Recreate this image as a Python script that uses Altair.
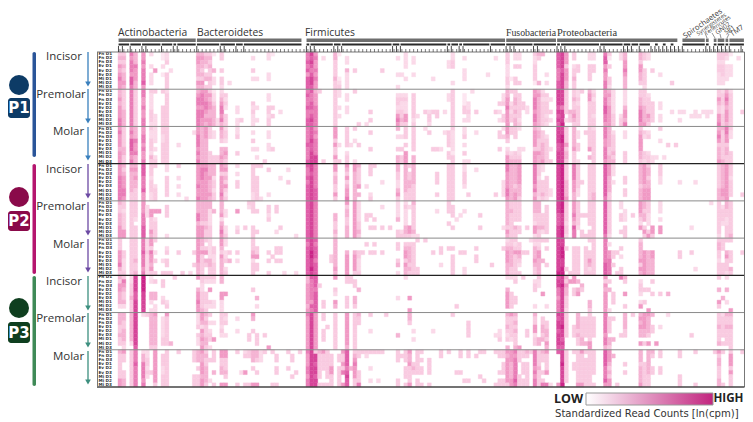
import altair as alt
import pandas as pd

P1_INCISOR = """0:343545655 1:343434454 3:656665776 4:444655544 6:556566675 8:200202220 9:000050000 11:110201000 12:223003333 13:000020000
20:455444354 21:454434354 22:344303403 23:343433433 24:100040220 26:330030332 28:000000020 34:020030200 35:000000200 38:220002200 39:100000000
48:667675777 49:878767887 50:565565655 52:020000000 55:443333433 56:100000123 58:022042222 60:000030000 67:000030000 71:020002002 72:000002000 73:222200200 75:022002000
80:000000200 84:002200000 85:223300020 88:020022200 94:000002000 96:020000000 99:333222332 100:000000100 101:220300330 102:220300030 106:322333310 107:430000040 108:400000000 109:000002020
112:777766677 113:888878888 114:555355544 116:330233433 117:000330000 120:220333300 121:220330000 124:677565566 125:310300332 128:220000000 129:445565444 133:443554430 134:330033332 135:220000000 136:000030000 138:000002000 141:000000030
153:332332220 154:332333220 155:320222200 156:100222000 158:020000000"""
P1_PREMOLAR = """0:445455566 1:333334444 3:666666666 4:333333333 6:665565566 8:322223332 9:300000222 11:300033333 12:233333333
20:456656666 21:566656655 22:555665454 23:354554455 24:122344444 25:000000022 26:234566564 27:032320333 30:000022022 31:000000030 34:000323222 35:000020020 38:022033233 39:000030300 41:000002000
48:676676677 49:766776787 50:455566666 51:300000000 55:333333333 56:220020200 58:022022000 60:300000000 61:000000003 63:000000002 64:000003030 71:023323565 72:023223343 73:023222553 75:033333323 76:000000200 78:000003000 79:000002332
80:000003000 81:000003300 83:000002000 84:022000000 85:333333333 88:011133020 89:000223220 90:200000000 91:000003000 96:000003000 97:000302020 98:022300330 99:445565555 100:300232330 101:334434344 102:033333323 103:000330000 104:000022000 106:556665665 107:454444444 108:232333333 109:032333232 110:002003020
112:888878787 113:888868889 114:333333020 115:000004330 116:334334543 117:223233333 118:300000000 120:455333333 121:232333233 124:556677665 125:454455555 126:222222333 128:000000233 129:222245546 133:334456665 134:333344445 135:023333543 136:000333330 138:000220220
141:000002000 143:000002020 144:000002000 146:000000200 147:000002200 148:000000200 149:000002000 150:000002200 151:000002000 153:335433556 154:233322333 155:456545554 156:233333333 159:000003000"""
P1_MOLAR = """0:565554555 1:333334433 3:565777656 4:444655644 6:556656556 8:322333243 9:222202023 11:332233333 12:333333333 15:000020000 19:020000000
20:556665656 21:444444444 22:555444444 23:333000333 24:022000033 25:000000033 26:544304454 27:233204543 30:223000300 34:020302000 35:000002020 38:022022000 39:000003000 37:000000003
48:666676667 49:777877888 50:565666688 52:000000003 55:555353353 56:000020003 58:333330233 60:300200002 61:000030000 59:000020000 64:030003000 71:402003044 72:002003033 73:333030555 75:333333044 78:200000000 79:030000000
80:000003000 81:000003000 82:000002000 83:020000000 84:033330330 85:322222133 88:223020302 89:000000002 91:020000000 97:033003000 98:203000000 99:554302355 100:330000234 101:333000334 102:200002234 103:000002000
106:455553555 107:344333544 108:033344445 109:002333333 110:000002003 112:888877888 113:889988888 114:333353443 116:444445333 117:022033002 119:030000000 120:333335040 121:233333333 124:666556665 125:444443344 126:023333434 129:022000333
133:345555443 134:032000332 135:023000233 136:000000022 137:000000020 138:300200000 139:000000020 140:000030000 142:000030000 153:456534445 154:433333334 155:665534433 156:322000333"""
P2_INCISOR = """0:555666666 1:434555665 3:454444433 4:454544333 6:777666755 8:333233322 9:300002333 12:220333330 15:300202020 17:000000002
20:555556556 21:566655555 22:565555555 23:444544454 24:444233233 26:553555565 27:453435323 30:202033000 34:333333322 35:300333333 36:300000002 38:030000020 41:000200000 43:020030000
48:766767777 49:887888888 50:666666777 55:553443353 58:543534556 60:554444444 61:433335040 63:000002000 64:333000023 65:300000000 67:000020000 71:443322453 73:444444433 74:303344333 75:444443333
81:003330030 84:333333333 85:333333333 88:223332000 89:000000030 91:020000000 96:000000030 98:000022220 99:665555665 100:444444444 101:444443455 102:555554443 106:666665645 107:333233332 108:220033343 109:000333332 110:000000220
112:888888888 113:999999999 114:333344445 116:666655544 117:333333220 118:000030000 120:333333333 121:333333344 124:777777776 125:555444433 126:222020000 129:000330330 133:444443444 134:555554555 135:344344555 138:333220000 143:000020000 147:000020000
153:333333444 154:444444554 155:555555555 156:333233330 159:000000030"""
P2_PREMOLAR = """0:433444555 1:332333355 3:333333333 4:333320333 6:555666777 7:022200000 8:005533354 9:005023333 10:005000000 12:033300002
20:444664555 21:444443555 22:444443433 23:442222333 24:004000000 26:444524565 27:002200223 30:005000230 32:000000300 33:320000000 34:333000333 35:003000030 38:033230000 40:033000020 41:000000300 45:000000002
48:777777777 49:888888888 50:666666666 55:000443343 58:534433444 60:555555555 61:222223343 63:000330000 64:000300300 65:000030300 67:020000300 69:000000300 71:222240033 72:000000023 73:232222443 74:020000553 75:433333342 76:000000002
81:002000000 84:333003000 85:033300300 86:000020000 87:000200000 88:002000000 92:000300300 98:000000200 99:444444354 100:334333333 101:333330433 102:333330330 104:000000300 106:444332552 107:444333433 108:000333420 109:033333330
112:888777888 113:999888999 114:333332332 116:555654766 117:333333200 118:000300033 119:000300003 120:333333033 121:333333333 124:777777776 125:333333332 128:220330030 129:002220333 131:000300000 133:555432500 134:443440353 135:333222035 136:000000553 138:222020550 146:000000200
151:200000000 153:333333332 154:023332000 155:443322333 156:333333334"""
P2_MOLAR = """0:333555643 1:000332223 3:333333333 4:333334334 6:666766656 7:222322222 8:553655453 9:300203003 11:000002003 12:002303303 13:000000003 15:000300000 16:000000003 18:000000002 19:000300300
20:555555444 21:443533333 22:303504300 23:222224433 24:003322333 26:554354444 27:220223023 28:000304000 30:000302000 34:333452333 35:003350330 38:000303003 39:000030000 40:003303000 41:003303000 42:000000002 45:000000002
48:767777777 49:888998898 50:767776777 54:000033000 55:444444454 58:000455555 60:000455553 61:000332223 62:000300000 63:030000000 64:000300000 65:030300000 67:000300000 71:033003402 73:034553544 74:034444343 75:033333333 76:300000033 78:300000000
80:000300000 82:003300200 84:003000000 85:003033333 87:000300000 88:000300022 91:003033000 95:000000300 98:003000000 99:234555444 100:334444433 101:323533333 102:033543203 103:000300000 104:000300000 105:200000000 106:324445433 107:323554444 108:300004000 109:303000300
112:888888889 113:889998899 114:003000030 115:000000003 116:003333333 117:003333333 119:003333333 120:300335423 121:333333333 124:666666777 125:020556666 126:000330300 127:000300003 128:003020033 133:344445354 134:000555555 135:000444444 136:000554444 143:000330000 146:000300000 147:000000020
153:344332333 154:333000333 155:300453332 156:300333043 159:000300000"""
P3_INCISOR = """0:435544420 1:365433420 3:223334333 4:888877888 6:999988888 8:120044202 9:030044022 11:033002300 12:000000230 14:300000000
20:500455655 21:332233334 22:320033323 23:320500320 24:320000220 26:440055222 27:000050000 34:000300000 35:000004020 71:000002000 73:200000000 74:000005005
48:445555545 49:766666576 50:777677777 51:003000000 52:000000330 55:500320540 58:330003330 59:330000000 60:033004430 61:000400000
86:000000030 99:200455550 100:200033330 101:230003300 103:300000000 106:023300020 107:322000000 108:000050000 109:000000020 112:788665666 113:889888888 114:435443332 115:050000000 116:550330000 117:040450000 118:004300000 120:000000443
124:535455555 125:030400002 126:000033300 128:600000000 129:430050030 133:023320250 134:000300300 135:000300005 136:030030000 138:000030000 140:000040000 153:300400530 154:000004000 155:200400200 156:000000005"""
P3_PREMOLAR = """0:444334330 1:443344432 3:444444420 4:888888887 6:200000000 7:300000000 8:444444443 9:544444443 11:022222330 12:533333330 13:000000040
20:222303220 21:554254545 22:434333443 23:302023302 24:002000500 26:333232000 27:323002000 30:020020000 33:000003300 34:540030000 35:000003330 37:000003000 38:000000005
48:655555555 49:888888888 50:555555555 52:330033300 53:000300000 55:333333333 58:555555554 60:333333333 61:433000000 64:300020000 68:300000000 71:000004000 74:443000000 75:000020200
80:000020000 85:300000000 89:003333000 96:000002000 97:000022300 99:433432304 100:533333200 101:434343334 102:000000005 104:000033000 106:433552330 107:000000440 108:033443400 109:003344354
112:878878887 113:888988787 114:333333000 116:000333000 117:444434330 118:033333440 119:033333040 120:333333355 121:033333000 124:666665664 125:033330443 126:030000400 128:000003000 129:444433000 131:300000000
133:454544050 134:555544030 135:544443050 136:400330000 137:000000050 138:000200000 140:200000000 146:000003000 153:333433340 154:233333030 155:433433330 156:433433333"""
P3_MOLAR = """0:433333355 1:533003344 3:333333333 4:666766666 6:244666656 7:223323200 8:000003000 9:555555553 11:033322333 12:333333333 15:300000000 19:333000333
20:444030333 21:544555455 22:343344443 23:003000020 24:333004003 26:553344005 27:553334305 30:300000003 31:000002000 32:230005003 33:330000003 34:444030005 35:443003005 36:222000000 37:300000000 39:300000003 40:033033003 43:300030000 44:033000300 45:000003000 46:300000000
48:655566566 49:888888888 50:388788788 51:433333303 52:533330003 53:333333303 54:033355333 56:033033333 57:533536005 58:777767877 59:000040000 60:345655533 61:330003336 62:300000000 63:320000000 64:300020020 65:300000000 66:300000020 67:300000000
71:333000033 72:030000000 73:333033303 74:544533335 75:000343000 76:333333033 77:303033003 79:003333003
82:330000000 84:300000000 86:000003000 87:330003000 88:000000030 89:330000030 91:030000000 92:300000300 93:300000030 96:300000003 97:330003033 98:330333033 99:545555553 100:555444455 101:656666676 102:333000333 103:330333033 104:430333333 105:300000000
106:666656566 107:333343333 108:433003036 109:533335006 110:000000002 112:700000005 113:888988889 114:333333330 116:300330000 117:333333335 118:533333335 119:303333333 120:333333333 121:333333003 124:777766675 125:555434355 126:040000000 127:000000003 129:000303000
133:444344445 134:000333333 135:444444333 136:430033000 138:330033000 143:330000333 147:300000003 152:300000000 153:534433344 154:300000003 156:355535333 159:300000000"""

BLOCKS = [P1_INCISOR, P1_PREMOLAR, P1_MOLAR, P2_INCISOR, P2_PREMOLAR, P2_MOLAR, P3_INCISOR, P3_PREMOLAR, P3_MOLAR]
N_COLS, N_ROWS = 160, 81
SAMPLES = ["Fn D1", "Fn D2", "Fn D3", "Ev D1", "Ev D2", "Ev D3", "Mi D1", "Mi D2", "Mi D3"]
PHYLA = [("Actinobacteria", 0, 20), ("Bacteroidetes", 20, 47), ("Firmicutes", 48, 99), ("Fusobacteria", 99, 112),
         ("Proteobacteria", 112, 143), ("Spirochaetes", 144, 150), ("Synergistetes", 150, 151), ("Tenericutes", 152, 153),
         ("GN02", 153, 155), ("SR1", 155, 156), ("TM7", 156, 160)]
SUBGROUPS = [(0,3),(3,6),(6,11),(11,14),(14,15),(15,20),(20,26),(26,30),(30,32),(32,47),(48,49),(49,55),(55,57),(57,70),(70,72),(72,84),(84,85),(85,87),(87,88),(88,95),(95,99),
             (99,106),(106,112),(112,113),(113,123),(123,129),(129,131),(131,133),(133,136),(137,138),(139,140),(141,142),(144,150),(150,151),(152,153),(153,155),(155,156),(156,160)]
TALL_TICKS = [0,1,3,6,7,11,14,15,20,26,27,30,32,48,49,50,55,56,57,70,71,72,84,85,87,88,95,99,100,101,106,107,112,113,114,123,124,129,130,131,133,136,137,138,139,140,141,142,143,144,150,151,152,153,154,155,156,159]
TEETH = ["Incisor", "Premolar", "Molar"]
LOW_HIGH = ["LOW", "HIGH"]
LEGEND_TITLE = "Standardized Read Counts [ln(cpm)]"
PATIENTS = ["P1", "P2", "P3"]

cells = {}
for b, block in enumerate(BLOCKS):
    for item in block.split():
        c, digits = item.split(":")
        for r, d in enumerate(digits.ljust(9, "0")[:9]):
            if d != "0":
                key = (b * 9 + r, int(c))
                cells[key] = max(cells.get(key, 0), int(d))
heat = pd.DataFrame([{"row": k[0], "row2": k[0] + 1, "col": k[1], "col2": k[1] + 1, "v": v} for k, v in cells.items()])

X0, X1, Y0, Y1 = 110, 736.5, 44, 379
xs = alt.Scale(domain=[0, N_COLS], range=[X0, X1], nice=False, zero=False)
ys = alt.Scale(domain=[0, N_ROWS], range=[Y0, Y1], nice=False, zero=False)
cs = alt.Scale(domain=[0, 1, 3, 5, 7, 9], range=["#ffffff", "#fde6f1", "#f9cbe1", "#f19ac5", "#e05fa9", "#cb2488"])
one = pd.DataFrame({"a": [0]})
FONT = "Open Sans"
layers = []

def rect(a, b, c, d, color, **kw):
    layers.append(alt.Chart(one).mark_rect(color=color, **kw).encode(
        x=alt.value(a), x2=alt.value(b), y=alt.value(c), y2=alt.value(d)))

def text(s, x, y, size, color="#333333", font=FONT, weight="normal", align="left", angle=0):
    layers.append(alt.Chart(one).mark_text(fontSize=size, color=color, font=font, fontWeight=weight, align=align,
                                           baseline="middle", angle=angle).encode(
        x=alt.value(x), y=alt.value(y), text=alt.value(s)))

def seg(x1, y1, x2, y2, color, w=1):
    layers.append(alt.Chart(one).mark_rule(color=color, strokeWidth=w).encode(
        x=alt.value(x1), x2=alt.value(x2), y=alt.value(y1), y2=alt.value(y2)))

# heatmap
layers.append(alt.Chart(heat).mark_rect(strokeWidth=0.4).encode(
    x=alt.X("col:Q", scale=xs, axis=None), x2="col2:Q",
    y=alt.Y("row:Q", scale=ys, axis=None), y2="row2:Q",
    color=alt.Color("v:Q", legend=None, scale=cs),
    stroke=alt.Stroke("v:Q", legend=None, scale=cs)))

# row labels
lab = pd.DataFrame([{"row": r + 0.5, "t": SAMPLES[r % 9]} for r in range(N_ROWS)])
layers.append(alt.Chart(lab).mark_text(fontSize=4.2, font="DejaVu Sans", fontWeight="bold", color="#333333", align="left", baseline="middle").encode(
    x=alt.value(90.5), y=alt.Y("row:Q", scale=ys, axis=None), text="t:N"))

# separators
seps = pd.DataFrame({"row": [r for r in range(9, 81, 9) if r not in (27, 54)]})
layers.append(alt.Chart(seps).mark_rule(color="#8a8a8a", strokeWidth=1).encode(
    x=alt.value(89), x2=alt.value(X1), y=alt.Y("row:Q", scale=ys, axis=None)))
seps2 = pd.DataFrame({"row": [27, 54]})
layers.append(alt.Chart(seps2).mark_rule(color="#222222", strokeWidth=1.2).encode(
    x=alt.value(89), x2=alt.value(X1), y=alt.Y("row:Q", scale=ys, axis=None)))
seg(X1, Y0, X1, Y1, "#777777", 1)
seg(89, Y1, X1, Y1, "#444444", 1.5)
seg(89, Y0, X1, Y0, "#777777", 1)
seg(89.5, Y0, 89.5, Y1, "#777777", 1)

# ticks
ticks = pd.DataFrame({"col": [c + 0.5 for c in range(N_COLS)]})
layers.append(alt.Chart(ticks).mark_rule(color="#444444", strokeWidth=0.7).encode(
    x=alt.X("col:Q", scale=xs, axis=None), y=alt.value(41), y2=alt.value(44)))
tall = pd.DataFrame({"col": [c + 0.12 for c in TALL_TICKS]})
layers.append(alt.Chart(tall).mark_rule(color="#333333", strokeWidth=0.9).encode(
    x=alt.X("col:Q", scale=xs, axis=None), y=alt.value(38), y2=alt.value(44)))

# group bars
sub = pd.DataFrame([{"a": a + 0.15, "b": b - 0.15} for a, b in SUBGROUPS])
layers.append(alt.Chart(sub).mark_rect(color="#2a2a2a").encode(
    x=alt.X("a:Q", scale=xs, axis=None), x2="b:Q", y=alt.value(35.5), y2=alt.value(37.5)))
phy = pd.DataFrame([{"a": a + 0.15, "b": b - 0.15} for _, a, b in PHYLA])
layers.append(alt.Chart(phy).mark_rect(color="#6e6e6e").encode(
    x=alt.X("a:Q", scale=xs, axis=None), x2="b:Q", y=alt.value(30.5), y2=alt.value(34)))

# phylum names
text(PHYLA[0][0], 110, 25, 10.3)
text(PHYLA[1][0], 189, 25, 10.3)
text(PHYLA[2][0], 297, 25, 10.3)
text(PHYLA[3][0], 498, 25, 9.8, font="Liberation Sans Narrow")
text(PHYLA[4][0], 549, 25, 10.4, font="Liberation Sans Narrow")
text(PHYLA[5][0], 676, 29, 7.6, angle=325)
text(PHYLA[6][0], 689, 26, 5.6, angle=325)
text(PHYLA[7][0], 697, 26, 5.6, angle=325)
text(PHYLA[8][0], 708, 25, 6.3, angle=325)
text(PHYLA[9][0], 717, 25, 6.3, angle=325)
text(PHYLA[10][0], 723, 27, 7.2, angle=325)
seg(697, 25, 699, 30, "#666666", .7)
seg(704, 25, 707, 30, "#666666", .7)
seg(712, 26, 713, 30, "#666666", .7)
seg(721, 26, 719, 30, "#666666", .7)

# patient panel
PANEL = [
    ("#0d3b66", "#2a5599", "#3a80bd", 77, 90, 110, 44, 149, [(44, 79), (81, 116), (119, 153)], [49, 87, 124]),
    ("#8a0a4a", "#b5156e", "#6c4aa3", 189, 203, 223, 156, 266, [(156, 191), (194, 228), (231, 265)], [162, 199, 237]),
    ("#0f3f1f", "#3f8a57", "#3d8f7f", 300, 314, 335, 268, 378, [(268, 303), (305, 340), (343, 377)], [274, 311, 349]),
]
for (name, (dark, bar, arrow, cy, ry0, ry1, by0, by1, arrows, ty)) in zip(PATIENTS, PANEL):
    layers.append(alt.Chart(one).mark_circle(size=400, opacity=1, color=dark).encode(x=alt.value(11), y=alt.value(cy)))
    rect(0, 22, ry0, ry1, dark, cornerRadius=3)
    text(name, 11, (ry0 + ry1) / 2, 15, color="#ffffff", font="DejaVu Sans", weight="bold", align="center")
    rect(24.5, 28, by0, by1, bar, cornerRadius=2)
    for t, (a0, a1), y in zip(TEETH, arrows, ty):
        seg(80, a0, 80, a1 - 4, arrow, 1.3)
        layers.append(alt.Chart(one).mark_point(shape="triangle-down", filled=True, size=32, opacity=1, color=arrow).encode(
            x=alt.value(80), y=alt.value(a1 - 3)))
        text(t, 56 if t == "Incisor" else (53 if t == "Premolar" else 60.5), y, 11.5, align="center")

# legend
text(LOW_HIGH[0], 575, 391, 12.5, color="#222222", weight="bold", align="right")
text(LOW_HIGH[1], 705.5, 391, 11.6, color="#222222", weight="bold")
layers.append(alt.Chart(one).mark_rect(
    stroke="#999999", strokeWidth=1,
    color=alt.Gradient(gradient="linear", x1=0, x2=1, y1=0, y2=0,
                       stops=[alt.GradientStop(color="#ffffff", offset=0), alt.GradientStop(color="#c2257f", offset=1)])
).encode(x=alt.value(578), x2=alt.value(705), y=alt.value(385), y2=alt.value(397)))
text(LEGEND_TITLE, 547, 406, 10.1, color="#333333", font="DejaVu Sans")

chart = alt.layer(*layers).properties(width=737, height=413, padding=0, autosize=alt.AutoSizeParams(type="none")).configure_view(stroke=None)
chart.save("out.html", embed_options={"renderer": "svg", "actions": False})
